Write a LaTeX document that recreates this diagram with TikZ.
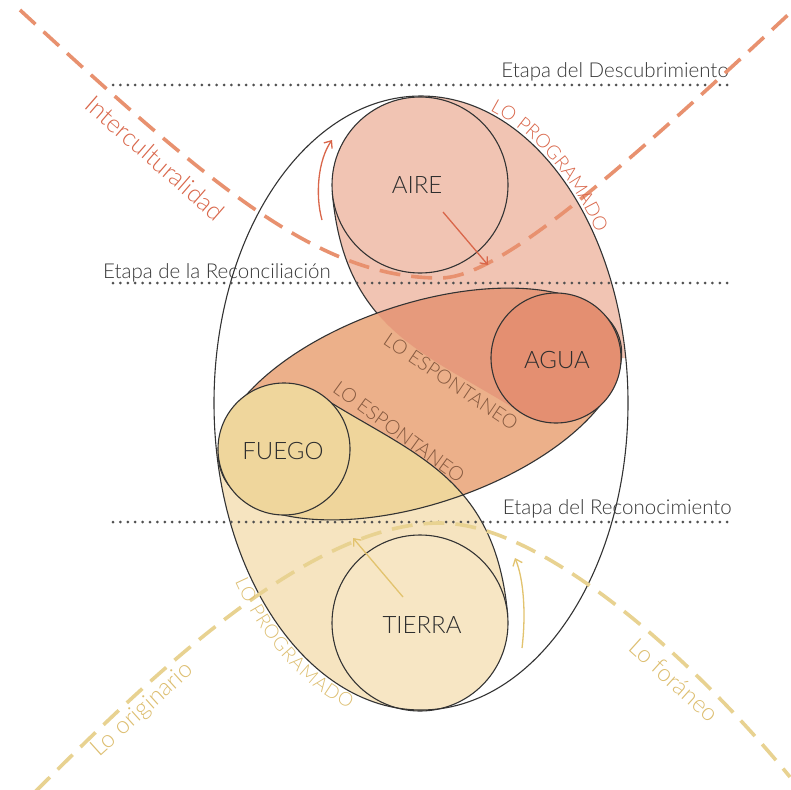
\documentclass[tikz,border=0pt]{standalone}
\usepackage{fontspec}
\IfFontExistsTF{Lato Light}{\setmainfont{Lato Light}}{\setmainfont{Lato}}
\usetikzlibrary{arrows.meta,decorations.text}
\definecolor{pinkc}{HTML}{F1C4B3}
\definecolor{orangec}{HTML}{ECB08A}
\definecolor{pinkor}{HTML}{E69A7C}
\definecolor{aguac}{HTML}{E48F71}
\definecolor{yellowc}{HTML}{F6E4C0}
\definecolor{yelor}{HTML}{EFD59B}
\definecolor{fuegoc}{HTML}{EFD69C}
\definecolor{tierrac}{HTML}{F7E6C4}
\definecolor{linec}{HTML}{333333}
\definecolor{darktext}{HTML}{2E2E2E}
\definecolor{etapac}{HTML}{383838}
\definecolor{redtext}{HTML}{D9664A}
\definecolor{reddash}{HTML}{E8916F}
\definecolor{browntext}{HTML}{85593F}
\definecolor{yeltext}{HTML}{DDBE70}
\definecolor{yeldash}{HTML}{E8D291}
\definecolor{yelarrow}{HTML}{E2C36E}
\definecolor{dotc}{HTML}{505050}
\tikzset{
  pinkpath/.style={insert path={(420,40) -- (420,97)
    -- plot[domain=-90:-185,samples=40,variable=\t] ({420+88*cos(\t)},{185+88*sin(\t)})
    .. controls (344.5,332.3) and (427.7,353.2) .. (520.6,412.5)
    -- plot[domain=123:0,samples=40,variable=\t] ({556+65*cos(\t)},{358+65*sin(\t)})
    -- (700,358) -- (700,40) -- cycle}},
  orangerot/.style={rotate around={18.5:(420,404)}},
  outline/.style={draw=linec, line width=1.1pt},
  elem/.style={circle, inner sep=0pt, outline},
  elemtext/.style={inner sep=0pt, text=darktext, font=\fontsize{24}{24}\selectfont},
  etapa/.style={inner sep=0pt, text=etapac, font=\fontsize{20.5}{20.5}\selectfont},
  dotline/.style={draw=dotc, line width=3pt, line cap=round, dash pattern=on 0pt off 7.4pt},
  reddashed/.style={draw=reddash, line width=3.6pt, dash pattern=on 21pt off 11pt},
  yeldashed/.style={draw=yeldash, line width=3.6pt, dash pattern=on 21pt off 11pt},
  redarrow/.style={draw=redtext, line width=1.3pt, -{Straight Barb[length=6pt,width=10pt]}},
  yelarr/.style={draw=yelarrow, line width=1.3pt, -{Straight Barb[length=6pt,width=10pt]}},
  esp/.style={inner sep=0pt, text=browntext, font=\fontsize{19.5}{19.5}\selectfont},
  bigyel/.style={inner sep=0pt, text=yeltext, font=\fontsize{24}{24}\selectfont},
}
\begin{document}
\begin{tikzpicture}[x=1pt,y=-1pt]
\useasboundingbox[fill=white] (0,0) rectangle (791,789);
% region fills
\begin{scope}
  \clip (421,403) ellipse[x radius=207,y radius=307];
  \fill[pinkc, pinkpath];
  \fill[yellowc, rotate around={180:(420,404)}, pinkpath];
  \fill[orangec, orangerot] (420,404) ellipse[x radius=210,y radius=100];
  \begin{scope}
    \clip[orangerot] (420,404) ellipse[x radius=210,y radius=100];
    \fill[pinkor, pinkpath];
    \fill[yelor, rotate around={180:(420,404)}, pinkpath];
  \end{scope}
\end{scope}
% outlines of the shapes
\draw[outline, orangerot] (420,404) ellipse[x radius=210,y radius=100];
\draw[outline] (332.3,192.7) .. controls (337.2,248.5) and (353.4,285.4) .. (377.1,313.3);
\draw[outline, rotate around={180:(420,404)}] (332.3,192.7) .. controls (344.5,332.3) and (427.7,353.2) .. (520.6,412.5);
% elements
\node[elem, fill=pinkc, minimum size=176pt] (aire) at (420,185) {};
\node[elem, fill=aguac, minimum size=130pt] (agua) at (556,358) {};
\node[elem, fill=fuegoc, minimum size=132pt] (fuego) at (284,449) {};
\node[elem, fill=tierrac, minimum size=176pt] (tierra) at (420,623) {};
\node[elemtext] (airet) at (417,185) {AIRE};
\node[elemtext] (aguat) at (557,360) {AGUA};
\node[elemtext] (fuegot) at (283,451) {FUEGO};
\node[elemtext] (tierrat) at (422,625) {TIERRA};
\draw[outline] (421,403) ellipse[x radius=207,y radius=307];
% stage lines
\coordinate (d1a) at (113,85);  \coordinate (d1b) at (732,85);
\coordinate (d2a) at (113,283); \coordinate (d2b) at (732,283);
\coordinate (d3a) at (113,522); \coordinate (d3b) at (732,522);
\draw[dotline] (d1a) -- (d1b);
\draw[dotline] (d2a) -- (d2b);
\draw[dotline] (d3a) -- (d3b);
\node[etapa, anchor=base east] (e1) at (729,78) {Etapa del Descubrimiento};
\node[etapa, anchor=base west] (e2) at (103,278) {Etapa de la Reconciliación};
\node[etapa, anchor=base east] (e3) at (732,514) {Etapa del Reconocimiento};
% dashed curves
\coordinate (r0) at (20,10); \coordinate (rm) at (440,278); \coordinate (r1) at (790,13);
\draw[reddashed] (r0) .. controls (215,190) and (320,278) .. (rm) .. controls (495,278) and (600,190) .. (r1);
\coordinate (y0) at (35,792); \coordinate (ym) at (440,523); \coordinate (y1) at (790,777);
\draw[yeldashed] (y0) .. controls (155,672) and (310,523) .. (ym) .. controls (540,523) and (690,655) .. (y1);
% arrows
\coordinate (ra0) at (443,212); \coordinate (ra1) at (488,265);
\draw[redarrow] (ra0) -- (ra1);
\coordinate (rc0) at (322,220); \coordinate (rc1) at (332,140);
\draw[redarrow] (rc0) .. controls (315,195) and (318,160) .. (rc1);
\coordinate (ya0) at (403,597); \coordinate (ya1) at (353,538);
\draw[yelarr] (ya0) -- (ya1);
\coordinate (yc0) at (522,648); \coordinate (yc1) at (515,558);
\draw[yelarr] (yc0) .. controls (526,615) and (524,580) .. (yc1);
% labels
\node[inner sep=0pt, text=redtext, font=\fontsize{25}{25}\selectfont, rotate=-41] (inter) at (155,158) {Interculturalidad};
\node[esp, rotate=-34] (esp1) at (451,382) {LO ESPONTANEO};
\node[esp, rotate=-36] (esp2) at (399,432) {LO ESPONTANEO};
\node[bigyel, rotate=42] (orig) at (143,710) {Lo originario};
\node[bigyel, rotate=-42] (foran) at (674,680) {Lo foráneo};
\path[decorate, decoration={text along path, raise=3pt,
  text={|\fontsize{19}{19}\selectfont\color{redtext}|LO PROGRAMADO}}]
  plot[domain=-71:-20,samples=50,variable=\t] ({421+207*cos(\t)},{403+307*sin(\t)});
\path[decorate, decoration={text along path, raise=-16pt,
  text={|\fontsize{19}{19}\selectfont\color{yeltext}|LO PROGRAMADO}}]
  plot[domain=146:85,samples=50,variable=\t] ({421+207*cos(\t)},{403+307*sin(\t)});
\end{tikzpicture}
\end{document}
